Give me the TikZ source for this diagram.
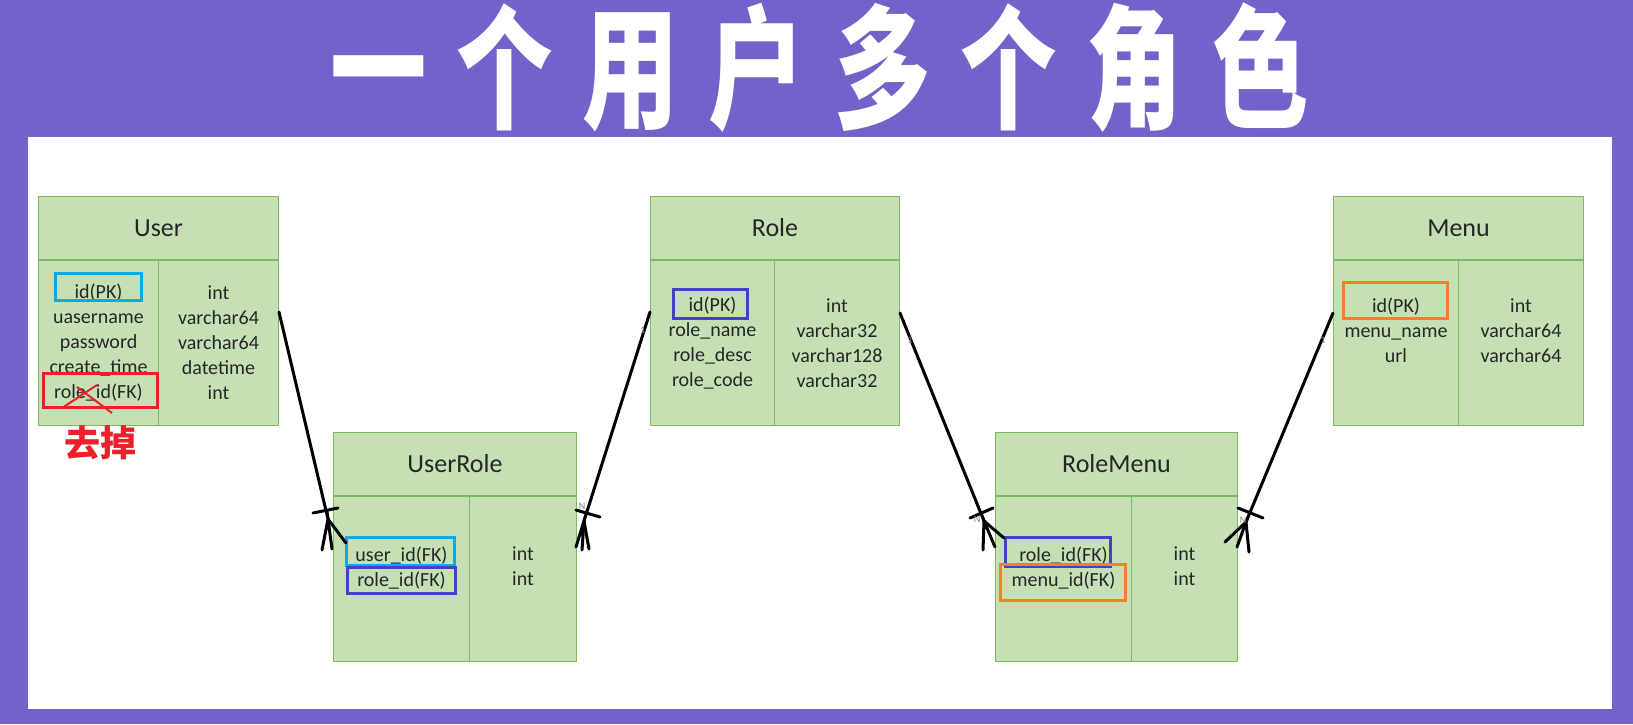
\documentclass[tikz,border=0pt]{standalone}
\usepackage{fontspec}
\setmainfont{Carlito}
\newfontfamily\cjk{Noto Sans CJK SC}
\newfontfamily\cjktitle{Noto Sans CJK SC}[FakeStretch=0.72,LetterSpace=22]
\usetikzlibrary{positioning,calc}
\definecolor{slide}{RGB}{113,99,201}
\definecolor{tblfill}{RGB}{197,224,180}
\definecolor{tblline}{RGB}{128,186,96}
\definecolor{ink}{RGB}{38,38,38}
\definecolor{pkcyan}{RGB}{0,172,236}
\definecolor{fkblue}{RGB}{68,64,204}
\definecolor{fkorange}{RGB}{247,128,38}
\definecolor{alert}{RGB}{236,32,40}

\begin{document}
\begin{tikzpicture}[x=1pt, y=-1pt,
  hdr/.style={draw=tblline, line width=1pt, fill=tblfill, minimum height=63pt,
    inner sep=0pt, text=ink, font=\fontsize{26}{30}\selectfont},
  fields/.style={draw=tblline, line width=1pt, fill=tblfill, minimum height=165pt,
    inner sep=0pt, align=center, text=ink, font=\fontsize{20}{25}\selectfont},
  hilite/.style={line width=3pt},
  rel/.style={line width=3pt, line cap=round},
  card/.style={text=gray, font=\fontsize{10}{10}\selectfont, inner sep=0pt}
]
\useasboundingbox (0,0) rectangle (1633,724);
\fill[slide] (0,0) rectangle (1633,724);
\fill[white] (28,137) rectangle (1612,709);

\node[text=white, font=\cjktitle\bfseries\fontsize{134}{140}\selectfont] (title) at (820,68) {一个用户多个角色};

% tables
\node[hdr, minimum width=240pt, anchor=north west] (user) at (38,196) {User};
\node[fields, minimum width=120pt, below right=0pt of user.south west] (userk)
  {id(PK)\\uasername\\password\\create\_time\\role\_id(FK)};
\node[fields, minimum width=120pt, below left=0pt of user.south east] (usert)
  {int\\varchar64\\varchar64\\datetime\\int};

\node[hdr, minimum width=243pt, anchor=north west] (userrole) at (333,432) {UserRole};
\node[fields, minimum width=136pt, below right=0pt of userrole.south west] (userrolek)
  {user\_id(FK)\\role\_id(FK)\\~};
\node[fields, minimum width=107pt, below left=0pt of userrole.south east] (userrolet)
  {int\\int\\~};

\node[hdr, minimum width=249pt, anchor=north west] (role) at (650,196) {Role};
\node[fields, minimum width=124pt, below right=0pt of role.south west] (rolek)
  {id(PK)\\role\_name\\role\_desc\\role\_code};
\node[fields, minimum width=125pt, below left=0pt of role.south east] (rolet)
  {int\\varchar32\\varchar128\\varchar32};

\node[hdr, minimum width=242pt, anchor=north west] (rolemenu) at (995,432) {RoleMenu};
\node[fields, minimum width=136pt, below right=0pt of rolemenu.south west] (rolemenuk)
  {role\_id(FK)\\menu\_id(FK)\\~};
\node[fields, minimum width=106pt, below left=0pt of rolemenu.south east] (rolemenut)
  {int\\int\\~};

\node[hdr, minimum width=250pt, anchor=north west] (menu) at (1333,196) {Menu};
\node[fields, minimum width=125pt, below right=0pt of menu.south west] (menuk)
  {id(PK)\\menu\_name\\url\\~};
\node[fields, minimum width=125pt, below left=0pt of menu.south east] (menut)
  {int\\varchar64\\varchar64\\~};

% key highlights
\draw[hilite, pkcyan] (55,273) rectangle (141,300);
\draw[hilite, alert] (43,373) rectangle (157,407);
\draw[line width=2pt, alert] (62,408) -- (97,385);
\draw[line width=2pt, alert] (77,387) -- (112,413);
\node[text=alert, font=\cjk\bfseries\fontsize{36}{36}\selectfont] (drop) at (100,443) {去掉};

\draw[hilite, pkcyan] (346,537) rectangle (454,565);
\draw[hilite, fkblue] (347,567) rectangle (455,593);
\draw[hilite, fkblue] (673,289) rectangle (747,318);
\draw[hilite, fkblue] (1005,537) rectangle (1110,566);
\draw[hilite, fkorange] (1000,564) rectangle (1125,600);
\draw[hilite, fkorange] (1343,282) rectangle (1447,318);

% relations
\coordinate (uc) at (328,519);
\draw[rel] ($(usert.north east)+(0,52)$) -- (uc);
\draw[rel] (313,513) -- (338,508);
\draw[rel] (322,550) -- (uc) -- (332,549);
\draw[rel] (uc) -- (346,543);

\coordinate (rc) at (584,521);
\draw[rel] ($(rolek.north west)+(0,52)$) -- (rc);
\draw[rel] (576,510) -- (600,517);
\draw[rel] (576,547) -- (rc) -- (582,550);
\draw[rel] (rc) -- (589,549);
\node[card] (r1) at (643,330) {1};
\node[card] (rn) at (582,506) {N};

\coordinate (mc) at (984,521);
\draw[rel] ($(rolet.north east)+(0,53)$) -- (mc);
\draw[rel] (970,518) -- (993,508);
\draw[rel] (983,550) -- (mc) -- (995,547);
\draw[rel] (mc) -- (1004,538);
\node[card] (m1) at (910,340) {1};
\node[card] (mn) at (977,519) {N};

\coordinate (nc) at (1246,522);
\draw[rel] ($(menuk.north west)+(0,53)$) -- (nc);
\draw[rel] (1238,508) -- (1263,518);
\draw[rel] (1225,542) -- (nc) -- (1237,547);
\draw[rel] (nc) -- (1249,552);
\node[card] (n1) at (1323,340) {1};
\node[card] (nn) at (1243,520) {N};
\end{tikzpicture}
\end{document}
